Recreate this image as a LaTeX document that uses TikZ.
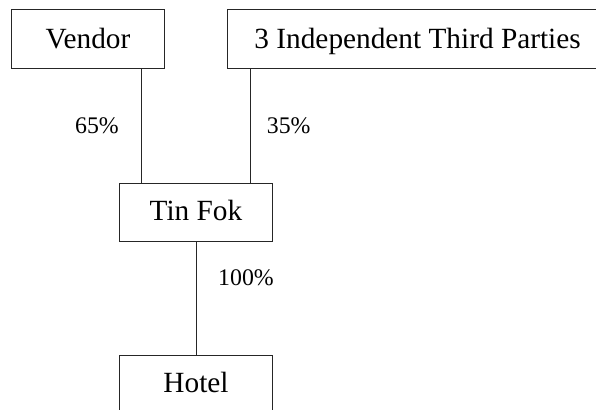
\documentclass[tikz,border=0pt]{standalone}
\usepackage{fontspec}
\setmainfont{Liberation Serif}
\begin{document}
\begin{tikzpicture}[x=0.5pt,y=-0.5pt,
  boxnode/.style={draw=black!85,line width=0.5pt,inner sep=0pt,
    font=\fontsize{14.65pt}{16pt}\selectfont,text height=0.87em,text depth=0pt},
  pct/.style={inner sep=0pt,anchor=base,font=\fontsize{11.9pt}{13pt}\selectfont},
  link/.style={draw=black!85,line width=0.5pt}]
\useasboundingbox (0,0) rectangle (596,410);
\clip (0,0) rectangle (596,410);
\node[boxnode,minimum width=76.15pt,minimum height=29.5pt] (vendor) at (88,39.5) {Vendor};
\node[boxnode,minimum width=190.35pt,minimum height=29.5pt] (third) at (417.6,39.5) {3 Independent Third Parties};
\node[boxnode,minimum width=76.85pt,minimum height=29pt] (tinfok) at (196,212.3) {Tin Fok};
\node[boxnode,minimum width=76.85pt,minimum height=29pt] (hotel) at (196,384.3) {Hotel};
\coordinate (vl) at ([xshift=11.35pt]tinfok.north west);
\coordinate (tl) at ([xshift=-11.35pt]tinfok.north east);
\draw[link] (vendor.south -| vl) -- (vl);
\draw[link] (third.south -| tl) -- (tl);
\draw[link] (tinfok.south) -- (hotel.north);
\node[pct] (p65) at (97,134) {65\%};
\node[pct] (p35) at (288.7,134) {35\%};
\node[pct] (p100) at (246,286) {100\%};
\end{tikzpicture}
\end{document}
